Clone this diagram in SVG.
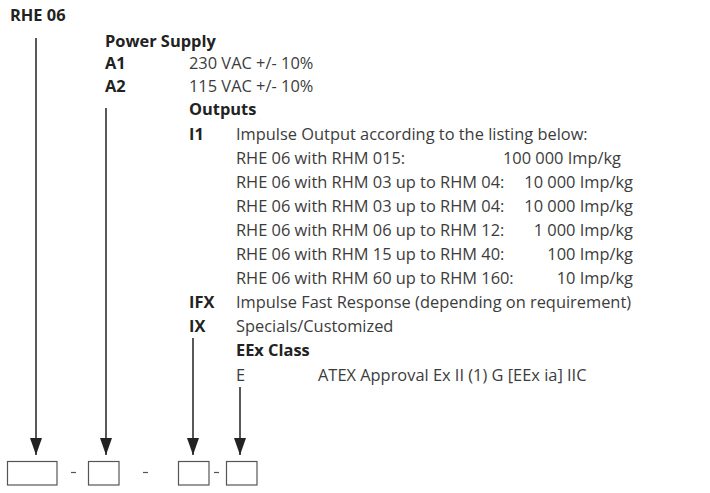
<svg xmlns="http://www.w3.org/2000/svg" width="710" height="493" viewBox="0 0 710 493">
<defs>
<style>
text{font-family:"Open Sans","Noto Sans","Liberation Sans",sans-serif;font-size:16.4px;fill:#3c3c3c}
.b{font-weight:bold;fill:#222}
.r{text-anchor:end}
.ln{stroke:#222;stroke-width:1.5;fill:none}
.box{fill:#fff;stroke:#555;stroke-width:1.2}
.dash{stroke:#555;stroke-width:1.2}
</style>
<marker id="ah" viewBox="0 0 17 12" refX="17" refY="6" markerWidth="17" markerHeight="12" markerUnits="userSpaceOnUse" orient="auto">
<path d="M0,0 L17,6 L0,12 Z" fill="#222"/>
</marker>
</defs>
<rect width="710" height="493" fill="#fff"/>
<g id="text">
<text class="b" x="10" y="21">RHE 06</text>
<text class="b" x="105" y="47">Power Supply</text>
<text class="b" x="105" y="69">A1</text><text x="189" y="69">230 VAC +/- 10%</text>
<text class="b" x="105" y="92">A2</text><text x="189" y="92">115 VAC +/- 10%</text>
<text class="b" x="189" y="115">Outputs</text>
<text class="b" x="189" y="140">I1</text><text x="236" y="140">Impulse Output according to the listing below:</text>
<text x="236" y="164">RHE 06 with RHM 015:</text><text class="r" x="621" y="164">100 000 Imp/kg</text>
<text x="236" y="188">RHE 06 with RHM 03 up to RHM 04:</text><text class="r" x="633" y="188">10 000 Imp/kg</text>
<text x="236" y="212">RHE 06 with RHM 03 up to RHM 04:</text><text class="r" x="633" y="212">10 000 Imp/kg</text>
<text x="236" y="236">RHE 06 with RHM 06 up to RHM 12:</text><text class="r" x="633" y="236">1 000 Imp/kg</text>
<text x="236" y="260">RHE 06 with RHM 15 up to RHM 40:</text><text class="r" x="633" y="260">100 Imp/kg</text>
<text x="236" y="284">RHE 06 with RHM 60 up to RHM 160:</text><text class="r" x="633" y="284">10 Imp/kg</text>
<text class="b" x="189" y="308">IFX</text><text x="236" y="308">Impulse Fast Response (depending on requirement)</text>
<text class="b" x="189" y="332">IX</text><text x="236" y="332">Specials/Customized</text>
<text class="b" x="236" y="356">EEx Class</text>
<text x="236" y="381">E</text><text x="318" y="381">ATEX Approval Ex II (1) G [EEx ia] IIC</text>
</g>
<g id="connectors">
<line class="ln" x1="36" y1="38" x2="36" y2="455" marker-end="url(#ah)"/>
<line class="ln" x1="106" y1="108" x2="106" y2="455" marker-end="url(#ah)"/>
<line class="ln" x1="193" y1="338" x2="193" y2="455" marker-end="url(#ah)"/>
<line class="ln" x1="240" y1="387" x2="240" y2="455" marker-end="url(#ah)"/>
</g>
<g id="box1"><rect class="box" x="7.5" y="461.5" width="49.5" height="23.5"/></g>
<line class="dash" x1="71" y1="472.5" x2="76" y2="472.5"/>
<g id="box2"><rect class="box" x="88.5" y="461.5" width="30.5" height="23.5"/></g>
<line class="dash" x1="143" y1="472.5" x2="148" y2="472.5"/>
<g id="box3"><rect class="box" x="178.5" y="461.5" width="30.5" height="23.5"/></g>
<line class="dash" x1="214" y1="472.5" x2="219" y2="472.5"/>
<g id="box4"><rect class="box" x="226.5" y="461.5" width="30.5" height="23.5"/></g>
</svg>
